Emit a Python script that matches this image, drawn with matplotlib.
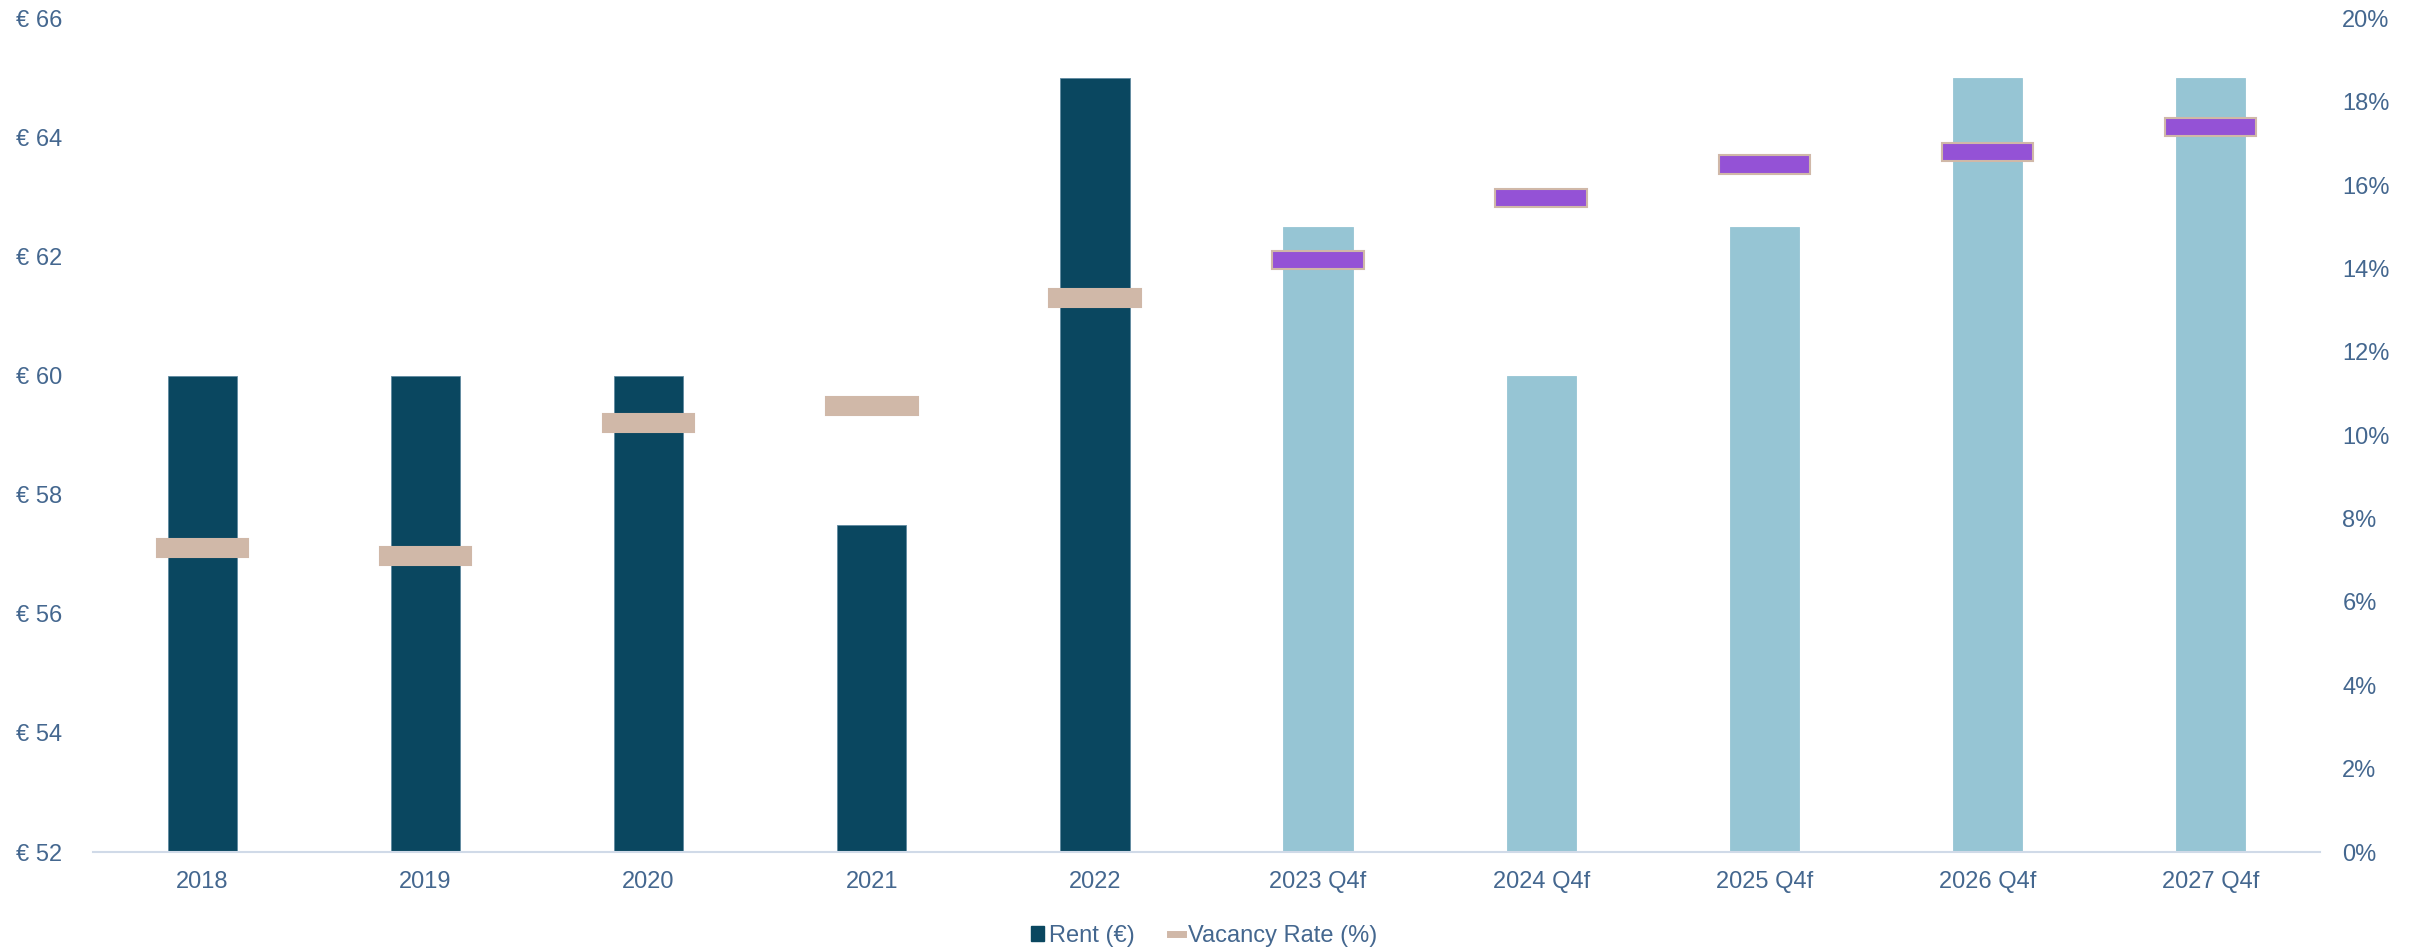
import matplotlib
matplotlib.use("Agg")
import matplotlib.pyplot as plt
from matplotlib.patches import Patch
from matplotlib.lines import Line2D
from matplotlib.ticker import FuncFormatter
import numpy as np

plt.rcParams['font.family'] = ['Liberation Sans', 'DejaVu Sans']

categories = ["2018", "2019", "2020", "2021", "2022",
              "2023 Q4f", "2024 Q4f", "2025 Q4f", "2026 Q4f", "2027 Q4f"]
rent = [60, 60, 60, 57.5, 65, 62.5, 60, 62.5, 65, 65]
vacancy = [7.3, 7.1, 10.3, 10.7, 13.3, 14.2, 15.7, 16.5, 16.8, 17.4]
is_forecast = [False] * 5 + [True] * 5

dark = "#0A4760"
light = "#96C5D4"
tan = "#D0B8A8"
purple = "#9452D6"
txt = "#44678F"

fig = plt.figure(figsize=(24.2, 9.49), dpi=100)
ax = fig.add_axes([0.0384, 0.1022, 0.9203, 0.8783])
ax2 = ax.twinx()

x = np.arange(len(categories))
bar_colors = [light if f else dark for f in is_forecast]
ymin = 52
ax.bar(x, [r - ymin for r in rent], bottom=ymin, width=0.31, color=bar_colors,
       edgecolor=[light if f else "#5F8AA0" for f in is_forecast], linewidth=0.6, zorder=2)
ax.set_ylim(52, 66)
ax.set_xlim(-0.49, len(categories) - 0.51)
ax.set_yticks(np.arange(52, 67, 2))
ax.yaxis.set_major_formatter(FuncFormatter(lambda v, p: f"€ {int(v)}"))
ax.set_xticks(x)
ax.set_xticklabels(categories)

mh = 0.44
ax2.bar(x, [mh] * len(x), bottom=[v - mh / 2 for v in vacancy], width=0.41,
        color=[purple if f else tan for f in is_forecast],
        edgecolor=tan, linewidth=1.5, zorder=3)
ax2.set_ylim(0, 20)
ax2.set_yticks(np.arange(0, 21, 2))
ax2.yaxis.set_major_formatter(FuncFormatter(lambda v, p: f"{int(v)}%"))

for a in (ax, ax2):
    for s in a.spines.values():
        s.set_visible(False)
    a.tick_params(length=0, labelsize=17, labelcolor=txt)
ax.spines['bottom'].set_visible(True)
ax.spines['bottom'].set_color("#D0DAE8")
ax.spines['bottom'].set_linewidth(1.5)
ax.tick_params(axis='x', pad=14)
ax.tick_params(axis='y', pad=22)
ax2.tick_params(axis='y', pad=16)

handles = [Patch(facecolor=dark, edgecolor=dark),
           Line2D([0], [0], color=tan, linewidth=5)]
fig.legend(handles, ["Rent (€)", "Vacancy Rate (%)"], loc='center',
           bbox_to_anchor=(0.4975, 0.014), ncol=2, frameon=False,
           fontsize=17, labelcolor=txt, handlelength=0.55, handleheight=0.6,
           handletextpad=0.2, columnspacing=1.5)

fig.savefig("out.png", dpi=100, facecolor="white")
